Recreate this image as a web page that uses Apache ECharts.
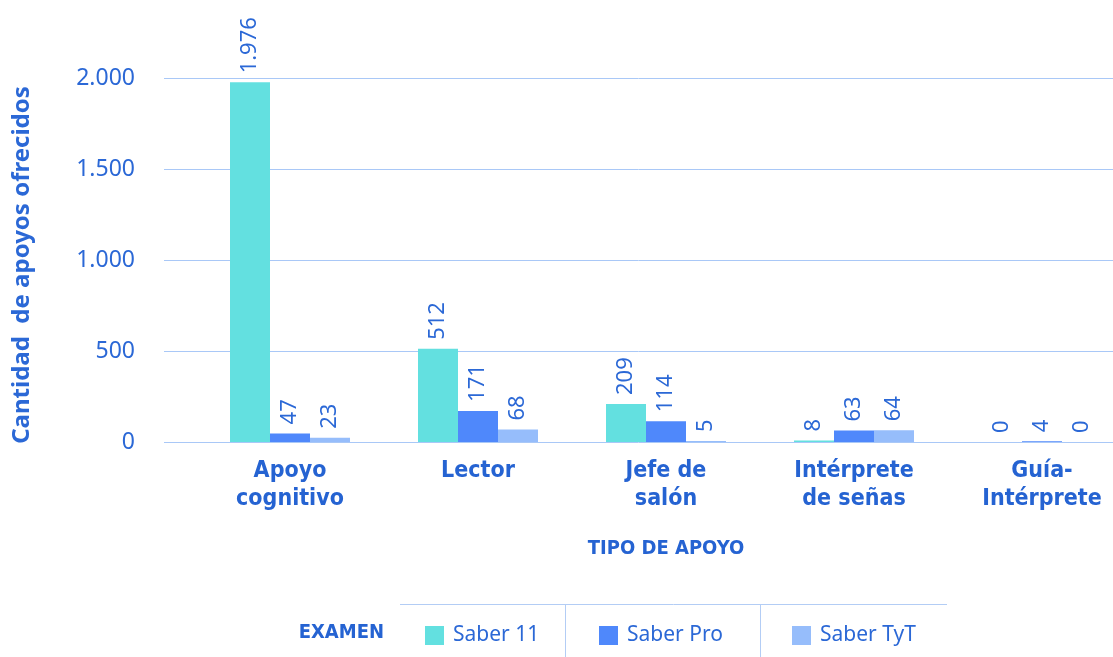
<!DOCTYPE html>
<html><head><meta charset="utf-8">
<script src="https://cdn.jsdelivr.net/npm/echarts@6/dist/echarts.min.js"></script>
<style>html,body{margin:0;padding:0;background:#fff;overflow:hidden;width:1113px;height:657px}#c{width:1150px;height:657px}</style>
</head><body><div id="c"></div>
<script>
const categories = ['Apoyo\ncognitivo', 'Lector', 'Jefe de\nsalón', 'Intérprete\nde señas', 'Guía-\nIntérprete'];
const seriesNames = ['Saber 11', 'Saber Pro', 'Saber TyT'];
const saber11 = [1976, 512, 209, 8, 0];
const saberPro = [47, 171, 114, 63, 4];
const saberTyT = [23, 68, 5, 64, 0];
const yTicks = [0, 500, 1000, 1500, 2000];

const colors = ['#63e0e0', '#4f88fb', '#96bdfb'];
const txt = '#2b68d6';
const fontMain = 'Noto Sans';
const fontCond = '"DejaVu Sans Condensed", "DejaVu Sans"';
const fmt = v => String(v).replace(/\B(?=(\d{3})+(?!\d))/g, '.');

const chart = echarts.init(document.getElementById('c'));
const mkSeries = (name, data, i) => ({
  name, type: 'bar', xAxisIndex: 1, yAxisIndex: 1, data,
  barWidth: 40, barGap: '0%', itemStyle: { color: colors[i] },
  label: { show: true, position: 'top', rotate: 90, align: 'left', verticalAlign: 'middle',
    distance: 9, color: txt, fontSize: 22, fontFamily: fontMain,
    formatter: p => fmt(p.value) }
});
const legendItem = (name, left) => ({
  data: [name], left, top: 620, itemWidth: 19, itemHeight: 19, icon: 'rect',
  textStyle: { color: txt, fontSize: 21, fontFamily: fontMain, padding: [0, 0, 0, 4] }
});
chart.setOption({
  animation: false,
  grid: [
    { left: 164, right: 37, top: 78, bottom: 215 },
    { left: 196, right: 14, top: 78, bottom: 215 }
  ],
  xAxis: [
    { gridIndex: 0, type: 'value', show: false, min: 0, max: 1 },
    { gridIndex: 1, type: 'category', data: categories,
      axisLine: { show: false }, axisTick: { show: false },
      axisLabel: { margin: 15, color: '#2563d2', fontSize: 23, fontWeight: 'bold',
        fontFamily: fontCond, lineHeight: 28 } }
  ],
  yAxis: [
    { gridIndex: 0, type: 'value', min: yTicks[0], max: yTicks[yTicks.length - 1], interval: 500,
      axisLine: { show: false }, axisTick: { show: false },
      splitLine: { lineStyle: { color: '#a9c8f7', width: 1 } },
      axisLabel: { margin: 29, color: txt, fontSize: 23, fontFamily: fontMain, formatter: v => fmt(v) } },
    { gridIndex: 1, type: 'value', min: yTicks[0], max: yTicks[yTicks.length - 1], interval: 500, show: false }
  ],
  legend: [legendItem(seriesNames[0], 420), legendItem(seriesNames[1], 594), legendItem(seriesNames[2], 787)],
  series: [mkSeries(seriesNames[0], saber11, 0), mkSeries(seriesNames[1], saberPro, 1), mkSeries(seriesNames[2], saberTyT, 2)],
  graphic: [
    { type: 'text', x: 22, y: 265, rotation: Math.PI / 2,
      style: { text: 'Cantidad  de apoyos ofrecidos', fill: txt, font: 'bold 24px "Noto Sans"', align: 'center', verticalAlign: 'middle' } },
    { type: 'text', x: 666, y: 549,
      style: { text: 'TIPO DE APOYO', fill: '#2563d2', font: 'bold 20px "DejaVu Sans Condensed", "DejaVu Sans"', align: 'center', verticalAlign: 'middle' } },
    { type: 'text', x: 384, y: 633,
      style: { text: 'EXAMEN', fill: '#2563d2', font: 'bold 20px "DejaVu Sans Condensed", "DejaVu Sans"', align: 'right', verticalAlign: 'middle' } },
    { type: 'line', shape: { x1: 400, y1: 604.5, x2: 947, y2: 604.5 }, style: { stroke: '#b3cdf5', lineWidth: 1 } },
    { type: 'line', shape: { x1: 565.5, y1: 604, x2: 565.5, y2: 657 }, style: { stroke: '#b3cdf5', lineWidth: 1 } },
    { type: 'line', shape: { x1: 760.5, y1: 604, x2: 760.5, y2: 657 }, style: { stroke: '#b3cdf5', lineWidth: 1 } }
  ]
});
</script></body></html>
